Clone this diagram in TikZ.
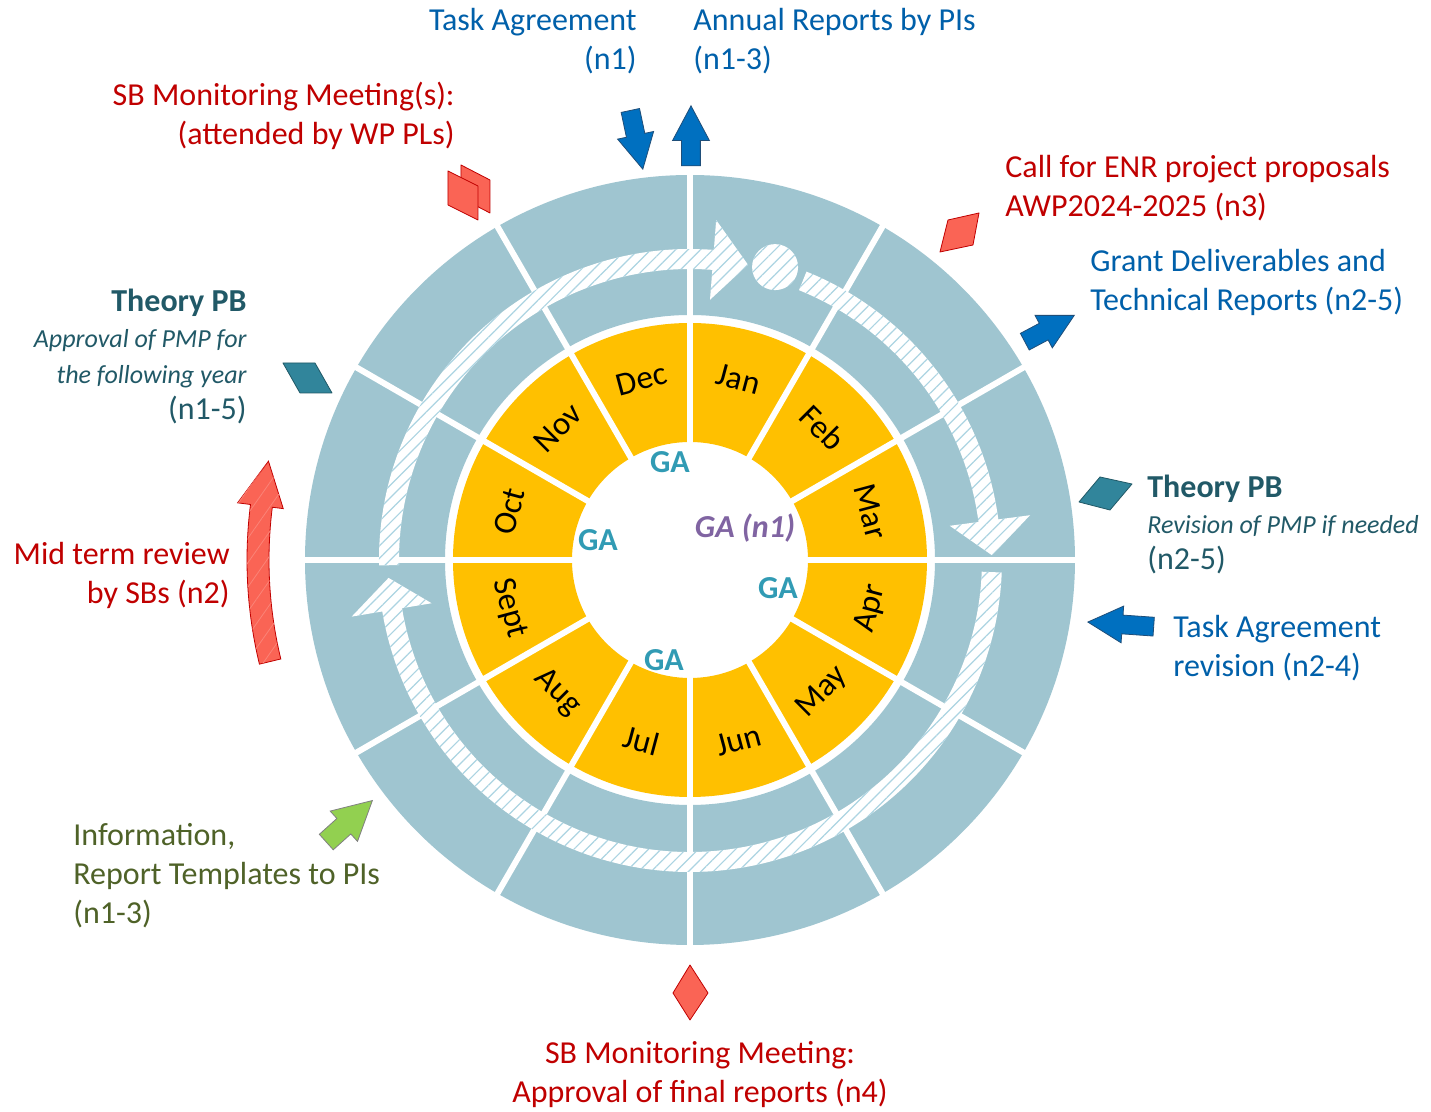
\documentclass[tikz,border=0pt]{standalone}
\usepackage{fontspec}
\setmainfont{Carlito}
\usetikzlibrary{shapes.arrows,patterns.meta}

\definecolor{ringblue}{RGB}{159,197,208}
\definecolor{monthgold}{RGB}{255,192,0}
\definecolor{hatchblue}{RGB}{172,212,226}
\definecolor{sbred}{RGB}{192,0,0}
\definecolor{tablue}{RGB}{0,96,170}
\definecolor{arrowblue}{RGB}{0,112,192}
\definecolor{arrowedge}{RGB}{31,78,121}
\definecolor{pbteal}{RGB}{33,89,103}
\definecolor{gateal}{RGB}{49,155,180}
\definecolor{gapurple}{RGB}{128,100,162}
\definecolor{infogreen}{RGB}{79,98,40}
\definecolor{coral}{RGB}{250,100,85}
\definecolor{shapeteal}{RGB}{49,133,155}
\definecolor{leafgreen}{RGB}{146,208,80}

\begin{document}
\begin{tikzpicture}[x=0.5pt, y=0.5pt,
  note/.style={inner sep=0pt, font=\fontsize{16}{19.5}\selectfont},
  pbnote/.style={inner sep=0pt, text=pbteal, font=\fontsize{16}{18}\selectfont},
  month/.style={font=\fontsize{16.5}{19}\selectfont},
  ga/.style={text=gateal, font=\fontsize{16}{19}\selectfont\bfseries},
  band/.style={preaction={fill=white}, pattern={Lines[angle=45,distance=4.4pt,line width=0.6pt]}, pattern color=hatchblue},
  blockarrow/.style={single arrow, draw=arrowedge, fill=arrowblue, line width=0.4pt,
    inner xsep=0pt, inner ysep=4.5pt, minimum height=30pt,
    single arrow head extend=4.5pt, single arrow tip angle=56, anchor=tip},
  card/.style={line width=0.4pt, line join=round}]

\fill[white] (-690,-552) rectangle (741,560);
\useasboundingbox (-690,-552) rectangle (741,560);

% rings
\fill[ringblue, even odd rule] (0,0) circle[radius=385] (0,0) circle[radius=245];
\fill[monthgold, even odd rule] (0,0) circle[radius=237] (0,0) circle[radius=118];
\foreach \ang in {0,30,...,330}
  \draw[white, line width=3pt] (\ang:110) -- (\ang:392);

\foreach \m [count=\i] in {Jan,Feb,Mar,Apr,May,Jun,Jul,Aug,Sept,Oct,Nov,Dec}{
  \pgfmathsetmacro\ang{105-30*\i}
  \pgfmathsetmacro\rot{sin(\ang)>0 ? \ang-90 : \ang+90}
  \node[month, rotate=\rot] (m\i) at (\ang:187) {\m};
}

\node[ga] (ga1) at (-20,98) {GA};
\node[ga] (ga2) at (-92,20) {GA};
\node[ga] (ga3) at (88,-28) {GA};
\node[ga] (ga4) at (-26,-100) {GA};
\node[ga, text=gapurple, font=\fontsize{16}{19}\selectfont\bfseries\itshape] (gan1) at (55,32) {GA (n1)};

% hatched cycle arrows
\path[band] (181:311) arc[start angle=181, end angle=85.6, radius=311]
  -- (85.6:341) -- (78.9:301) -- (85.6:261) -- (85.6:291)
  arc[start angle=85.6, end angle=181, radius=291] -- cycle;
\path[band] (73.8:305) circle[radius=23];
\path[band] (68:311) arc[start angle=68, end angle=7.5, radius=311]
  -- (7.5:343) -- (0.9:302) -- (7.5:262) -- (7.5:291)
  arc[start angle=7.5, end angle=68, radius=291] -- cycle;
\path[band] (-2.3:312) arc[start angle=-2.3, end angle=-170.5, radius=312]
  -- (-170.5:343) -- (-176.6:302) -- (-170.5:262) -- (-170.5:292)
  arc[start angle=-170.5, end angle=-2.3, radius=292] -- cycle;

% mid term review arrow
\path[fill=coral, draw=sbred, line width=0.4pt,
      postaction={pattern={Lines[angle=55,distance=7pt,line width=0.4pt]}, pattern color=coral!80!white}]
  (193.6:421) arc[start angle=193.6, end angle=172.8, radius=421]
  -- (172.8:410) -- (166.8:433) -- (172.8:456) -- (172.8:443)
  arc[start angle=172.8, end angle=193.6, radius=443] -- cycle;

% small cards
\filldraw[card, fill=coral, draw=sbred] (-229,395) -- (-200,380) -- (-200,347) -- (-229,362) -- cycle;
\filldraw[card, fill=coral, draw=sbred] (-242,389) -- (-212,374) -- (-212,340) -- (-242,355) -- cycle;
\filldraw[card, fill=coral, draw=sbred] (250,308) -- (283,315) -- (289,347) -- (258,340) -- cycle;
\filldraw[card, fill=coral, draw=sbred] (0,-405) -- (18,-433) -- (0,-460) -- (-17,-433) -- cycle;
\filldraw[card, fill=shapeteal, draw=pbteal] (-407,197) -- (-375,197) -- (-358,167) -- (-390,167) -- cycle;
\filldraw[card, fill=shapeteal, draw=pbteal] (389,58) -- (420,50) -- (442,76) -- (410,83) -- cycle;

% block arrows
\node[blockarrow, rotate=-78] (a1) at (-47,390) {};
\node[blockarrow, rotate=90] (a2) at (1,455) {};
\node[blockarrow, rotate=28, minimum height=28pt] (a3) at (385,245) {};
\node[blockarrow, rotate=176, minimum height=33pt] (a4) at (397,-62) {};
\node[blockarrow, rotate=42, fill=leafgreen, draw=gray, minimum height=31pt,
      inner ysep=5pt, single arrow head extend=5pt] (a5) at (-317,-240) {};

% labels
\node[note, text=tablue, anchor=east, align=right] (ta) at (-53,518.5) {Task Agreement\\(n1)};
\node[note, text=tablue, anchor=west, align=left] (ar) at (3,518.5) {Annual Reports by PIs\\(n1-3)};
\node[note, text=sbred, anchor=east, align=right] (sb) at (-235,444) {SB Monitoring Meeting(s):\\(attended by WP PLs)};
\node[note, text=sbred, anchor=west, align=left] (enr) at (315,372) {Call for ENR project proposals\\AWP2024-2025 (n3)};
\node[note, text=tablue, anchor=west, align=left] (gd) at (400,278) {Grant Deliverables and\\Technical Reports (n2-5)};
\node[pbnote, anchor=west, align=left] (pbr) at (457,35)
  {\textbf{Theory PB}\\{\itshape\fontsize{13}{18}\selectfont Revision of PMP if needed}\\(n2-5)};
\node[note, text=tablue, anchor=west, align=left] (tar) at (483,-88) {Task Agreement\\revision (n2-4)};
\node[note, text=sbred, align=center] (sbf) at (10,-515) {SB Monitoring Meeting:\\Approval of final reports (n4)};
\node[note, text=infogreen, anchor=west, align=left] (info) at (-617,-316) {Information,\\Report Templates to PIs\\(n1-3)};
\node[note, text=sbred, anchor=east, align=right] (mt) at (-460,-15) {Mid term review\\by SBs (n2)};
\node[pbnote, anchor=east, align=right] (pbl) at (-443,203.5)
  {\textbf{Theory PB}\\{\itshape\fontsize{13}{18}\selectfont Approval of PMP for}\\{\itshape\fontsize{13}{18}\selectfont the following year}\\(n1-5)};
\end{tikzpicture}
\end{document}
